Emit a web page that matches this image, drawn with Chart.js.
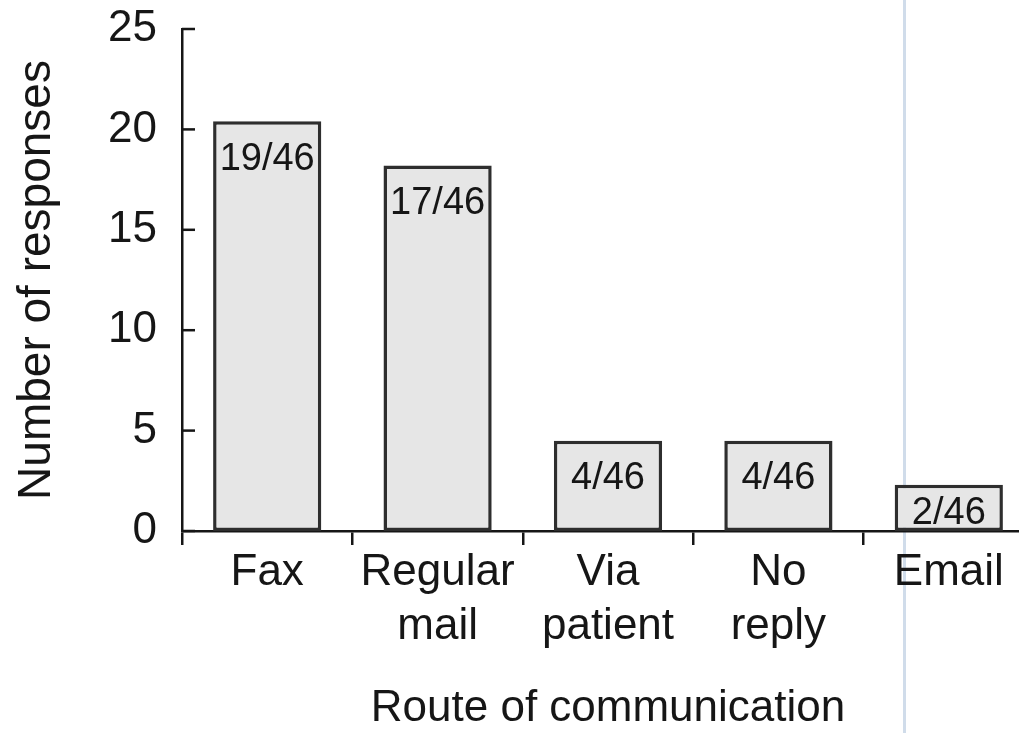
<!DOCTYPE html>
<html>
<head>
<meta charset="utf-8">
<script src="https://cdn.jsdelivr.net/npm/chart.js@4/dist/chart.umd.min.js"></script>
<style>
  html, body { margin: 0; padding: 0; background: #fff; overflow: hidden; }
  #wrap { position: relative; width: 1019px; height: 733px; overflow: hidden; }
  #rule { position: absolute; left: 903px; top: 0; width: 3px; height: 733px; background: #d0dcea; }
  #routeChart { position: absolute; left: 0; top: 0; }
</style>
</head>
<body>
<div id="wrap">
  <div id="rule"></div>
  <canvas id="routeChart" width="1036" height="733"></canvas>
</div>
<script>
// Chart data
const routes = [['Fax'], ['Regular', 'mail'], ['Via', 'patient'], ['No', 'reply'], ['Email']];
const responses = [20.4, 18.2, 4.5, 4.5, 2.3];
const fractions = ['19/46', '17/46', '4/46', '4/46', '2/46'];
const yTicks = [0, 5, 10, 15, 20, 25];

const FONT = "'Liberation Sans', Arial, Helvetica, sans-serif";
const INK = '#161616';

// inward tick marks on the y axis
const yInwardTicks = {
  id: 'yInwardTicks',
  afterDraw(chart) {
    const { ctx, scales: { y }, chartArea } = chart;
    ctx.save();
    ctx.strokeStyle = INK;
    ctx.lineWidth = 2.5;
    y.ticks.forEach(t => {
      const py = y.getPixelForValue(t.value);
      ctx.beginPath();
      ctx.moveTo(chartArea.left, py);
      ctx.lineTo(chartArea.left + 13, py);
      ctx.stroke();
    });
    ctx.restore();
  }
};

// fraction labels inside the bars
const barLabels = {
  id: 'barLabels',
  afterDatasetsDraw(chart) {
    const { ctx } = chart;
    const meta = chart.getDatasetMeta(0);
    ctx.save();
    ctx.font = `38px ${FONT}`;
    ctx.fillStyle = INK;
    ctx.textAlign = 'center';
    ctx.textBaseline = 'middle';
    meta.data.forEach((bar, i) => {
      const y = Math.min(bar.y + 38, bar.base - 17);
      ctx.fillText(fractions[i], bar.x, y);
    });
    ctx.restore();
  }
};

const ctx = document.getElementById('routeChart').getContext('2d');
new Chart(ctx, {
  type: 'bar',
  data: {
    labels: routes,
    datasets: [{
      data: responses,
      backgroundColor: '#e6e6e6',
      borderColor: '#2e2e2e',
      borderWidth: 3.5,
      borderSkipped: false,
      barPercentage: 0.635,
      categoryPercentage: 1
    }]
  },
  options: {
    responsive: false,
    animation: false,
    layout: { padding: { top: 29, right: 2, left: 0, bottom: 0 } },
    plugins: {
      legend: { display: false },
      tooltip: { enabled: false }
    },
    scales: {
      x: {
        offset: true,
        afterFit(scale) {
          scale.height = 202;
        },
        grid: {
          offset: true,
          drawOnChartArea: false,
          drawTicks: true,
          tickLength: 14,
          color: INK,
          lineWidth: 2.5
        },
        border: { color: INK, width: 2.5 },
        ticks: {
          color: INK,
          padding: 1,
          maxRotation: 0,
          font: { family: FONT, size: 44, lineHeight: 1.22 }
        },
        title: {
          display: true,
          text: 'Route of communication',
          color: INK,
          padding: { top: 30, bottom: -2 },
          font: { family: FONT, size: 44, lineHeight: 1.2 }
        }
      },
      y: {
        min: 0,
        max: 25,
        afterBuildTicks(scale) {
          scale.ticks = yTicks.map(v => ({ value: v }));
        },
        afterFit(scale) {
          scale.width = 182;
          scale.paddingTop = 0;
          scale.paddingBottom = 0;
        },
        grid: { display: false },
        border: { color: INK, width: 2.5 },
        ticks: {
          color: INK,
          padding: 17,
          font: { family: FONT, size: 44, lineHeight: 1.2 }
        },
        title: {
          display: true,
          text: 'Number of responses',
          color: INK,
          padding: { top: 10, bottom: 0 },
          font: { family: FONT, size: 46, lineHeight: 1.2 }
        }
      }
    }
  },
  plugins: [yInwardTicks, barLabels]
});
</script>
</body>
</html>
